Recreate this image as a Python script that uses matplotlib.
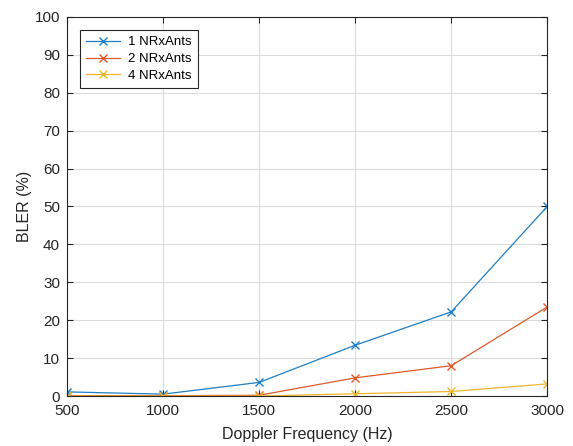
import matplotlib
matplotlib.use("Agg")
import matplotlib.pyplot as plt

freq = [500, 1000, 1500, 2000, 2500, 3000]
bler_1 = [1.1, 0.5, 3.6, 13.4, 22.2, 50.0]
bler_2 = [0.1, 0.1, 0.2, 4.8, 8.0, 23.5]
bler_4 = [0.0, 0.0, 0.0, 0.6, 1.2, 3.2]
labels = ["1 NRxAnts", "2 NRxAnts", "4 NRxAnts"]
colors = ["#1f7fc6", "#de5a2a", "#eeb62a"]

plt.rcParams['font.family'] = ['Liberation Sans', 'DejaVu Sans']
fig = plt.figure(figsize=(5.73, 4.46), dpi=100)
ax = fig.add_axes([0.117, 0.112, 0.838, 0.850])

for ys, lab, c in zip([bler_1, bler_2, bler_4], labels, colors):
    ax.plot(freq, ys, color=c, marker='x', markersize=6, linewidth=0.9, label=lab)

ax.set_xlim(500, 3000)
ax.set_ylim(0, 100)
ax.set_xticks(freq)
ax.set_yticks(range(0, 101, 10))
ax.grid(True, color='#dcdcdc', linewidth=0.8)
ax.set_axisbelow(True)
ax.tick_params(direction='in', top=True, right=True, labelsize=11, colors='#262626', length=4)
ax.tick_params(axis='x', pad=6)
ax.tick_params(axis='y', pad=5)
for s in ax.spines.values():
    s.set_color('#262626')
    s.set_linewidth(0.8)
ax.set_xlabel('Doppler Frequency (Hz)', fontsize=11.5, color='#262626', labelpad=6)
ax.set_ylabel('BLER (%)', fontsize=11.5, color='#262626', labelpad=2)
leg = ax.legend(loc='upper left', fontsize=9.5, fancybox=False, edgecolor='#262626',
                framealpha=1, borderaxespad=1.0, handlelength=2.6, handletextpad=0.6,
                borderpad=0.45, labelspacing=0.35)
leg.get_frame().set_linewidth(0.8)
fig.savefig('out.png', dpi=100)
